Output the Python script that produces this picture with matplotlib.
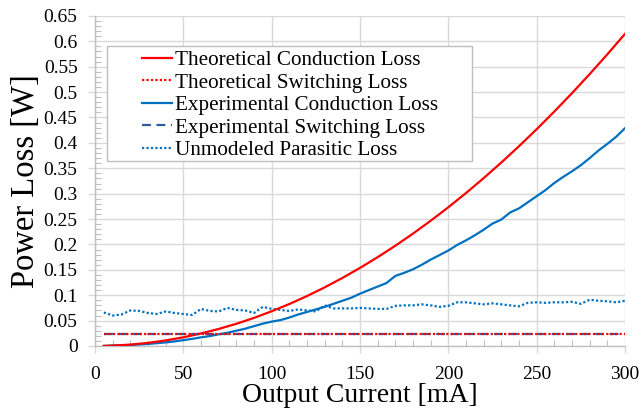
import matplotlib
matplotlib.use("Agg")
import matplotlib.pyplot as plt
from matplotlib.ticker import MultipleLocator
from matplotlib.patches import Rectangle

plt.rcParams['font.family'] = ['Liberation Serif', 'DejaVu Serif']

# Theoretical conduction loss (mA, W)
theo_current = [5, 10, 20, 30, 40, 50, 60, 70, 80, 90, 100, 110, 120, 130, 140, 150,
                160, 170, 180, 190, 200, 210, 220, 230, 240, 250, 260, 270, 280, 290, 300]
theo_cond = [0.0002, 0.0007, 0.0027, 0.0061, 0.0109, 0.0171, 0.0246, 0.0335, 0.0437,
             0.0553, 0.0683, 0.0826, 0.0983, 0.1154, 0.1339, 0.1537, 0.1749, 0.1974,
             0.2213, 0.2466, 0.2732, 0.3012, 0.3306, 0.3613, 0.3934, 0.4269, 0.4617,
             0.4979, 0.5355, 0.5744, 0.6147]

# Experimental measurements (mA)
exp_current = list(range(5, 301, 5))
exp_cond = [0.000, 0.001, 0.0015, 0.002, 0.003, 0.004, 0.0055, 0.007, 0.009, 0.0115,
            0.014, 0.017, 0.0195, 0.023, 0.026, 0.030, 0.034, 0.039, 0.044, 0.048,
            0.051, 0.056, 0.062, 0.067, 0.072, 0.077, 0.083, 0.089, 0.095, 0.103,
            0.110, 0.117, 0.124, 0.138, 0.144, 0.151, 0.160, 0.170, 0.179, 0.188,
            0.199, 0.208, 0.218, 0.229, 0.241, 0.249, 0.263, 0.271, 0.283, 0.295,
            0.307, 0.321, 0.333, 0.344, 0.356, 0.370, 0.385, 0.398, 0.412, 0.429]
parasitic = [0.066, 0.060, 0.062, 0.070, 0.069, 0.065, 0.063, 0.068, 0.065, 0.063,
             0.061, 0.073, 0.069, 0.068, 0.075, 0.071, 0.070, 0.065, 0.077, 0.073,
             0.071, 0.069, 0.072, 0.070, 0.068, 0.080, 0.074, 0.074, 0.074, 0.075,
             0.074, 0.073, 0.073, 0.079, 0.080, 0.080, 0.082, 0.080, 0.077, 0.079,
             0.086, 0.086, 0.084, 0.082, 0.084, 0.082, 0.080, 0.078, 0.085, 0.086,
             0.085, 0.086, 0.086, 0.087, 0.083, 0.091, 0.089, 0.088, 0.086, 0.089]

switch_current = [5, 300]
theo_switch = [0.023, 0.023]
exp_switch = [0.023, 0.023]

y_ticks = [0, 0.05, 0.1, 0.15, 0.2, 0.25, 0.3, 0.35, 0.4, 0.45, 0.5, 0.55, 0.6, 0.65]
y_tick_labels = ['0', '0.05', '0.1', '0.15', '0.2', '0.25', '0.3', '0.35', '0.4',
                 '0.45', '0.5', '0.55', '0.6', '0.65']

fig = plt.figure(figsize=(6.43, 4.11), dpi=100)
ax = fig.add_axes([0.1477, 0.1582, 0.8243, 0.803])

red = '#FF0000'
blue = '#0070C0'
dblue = '#2E5C9E'

ax.plot(theo_current, theo_cond, color=red, lw=1.6, label='Theoretical Conduction Loss', zorder=5)
ax.plot(switch_current, theo_switch, color=red, lw=1.6, ls=(0, (1, 1)), label='Theoretical Switching Loss', zorder=6)
ax.plot(exp_current, exp_cond, color=blue, lw=1.6, label='Experimental Conduction Loss', zorder=4)
ax.plot(switch_current, exp_switch, color=dblue, lw=1.6, ls=(0, (4, 2.5)), label='Experimental Switching Loss', zorder=5)
ax.plot(exp_current, parasitic, color=blue, lw=1.6, ls=(0, (1, 1)), label='Unmodeled Parasitic Loss', zorder=4)

ax.set_xlim(0, 300)
ax.set_ylim(0, 0.65)
ax.xaxis.set_major_locator(MultipleLocator(50))
ax.xaxis.set_minor_locator(MultipleLocator(10))
ax.yaxis.set_minor_locator(MultipleLocator(0.01))
ax.set_yticks(y_ticks)
ax.set_yticklabels(y_tick_labels)

ax.grid(True, which='major', color='#D9D9D9', lw=1.0, zorder=0)
ax.set_axisbelow(True)
for s in ['top', 'right']:
    ax.spines[s].set_visible(False)
for s in ['left', 'bottom']:
    ax.spines[s].set_color('#BFBFBF')
    ax.spines[s].set_linewidth(1.0)

ax.tick_params(which='major', direction='out', length=5, color='#D9D9D9', width=1.0,
               labelsize=14, labelcolor='black')
ax.tick_params(axis='y', which='major', pad=7.5)
ax.tick_params(axis='x', which='major', pad=9.5)
ax.tick_params(which='minor', direction='in', length=4, color='#BFBFBF', width=0.8)

ax.set_xlabel('Output Current [mA]', fontsize=20, labelpad=0)
ax.set_ylabel('Power Loss [W]', fontsize=23.5, labelpad=2)

# legend frame drawn separately (wide left padding as in reference)
frame = Rectangle((0.0226, 0.5606), 0.711 - 0.0226, 0.909 - 0.5606, transform=ax.transAxes,
                  facecolor='white', edgecolor='#BFBFBF', lw=1.0, zorder=7)
ax.add_patch(frame)

leg = ax.legend(loc='upper left', bbox_to_anchor=(0.0887, 0.896), fontsize=15.2,
                frameon=False, handlelength=1.42, handletextpad=0.15, borderpad=0,
                labelspacing=0.13, borderaxespad=0)
leg.set_zorder(8)

fig.savefig('out.png', dpi=100)
